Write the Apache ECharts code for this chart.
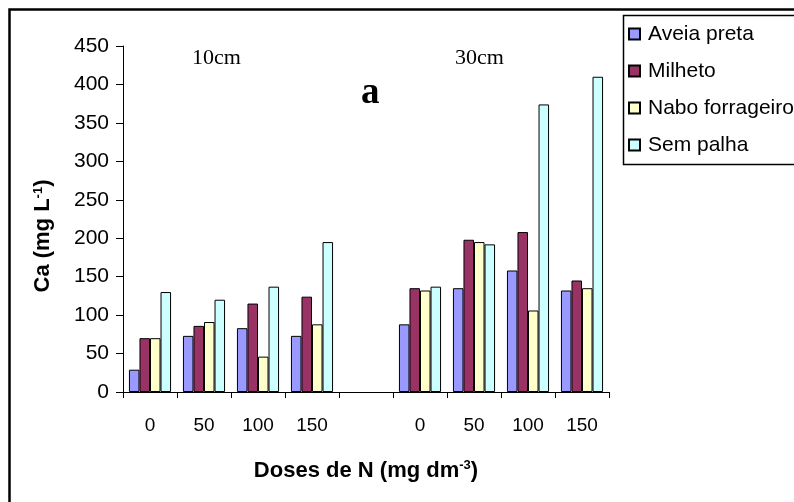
<!DOCTYPE html>
<html>
<head>
<meta charset="utf-8">
<script src="https://cdn.jsdelivr.net/npm/echarts@6/dist/echarts.min.js"></script>
<style>html,body{margin:0;padding:0;background:#fff;}#c{width:794px;height:502px;}</style>
</head>
<body>
<div id="c"></div>
<script>
const categories = ['0', '50', '100', '150', '', '0', '50', '100', '150'];
const seriesNames = ['Aveia preta', 'Milheto', 'Nabo forrageiro', 'Sem palha'];
const aveiaPreta = [29, 73, 83, 73, null, 88, 135, 158, 132];
const milheto = [70, 86, 115, 124, null, 135, 198, 208, 145];
const naboForrageiro = [70, 91, 46, 88, null, 132, 195, 106, 135];
const semPalha = [130, 120, 137, 195, null, 137, 192, 374, 410];
const yTicks = { min: 0, max: 450, interval: 50 };
const colors = ['#9999FF', '#993366', '#FFFFCC', '#CCFFFF'];
const allValues = [aveiaPreta, milheto, naboForrageiro, semPalha];

const chart = echarts.init(document.getElementById('c'), null, { renderer: 'canvas' });
const font = 'Arial, "Liberation Sans", sans-serif';
const serif = '"Times New Roman", "Liberation Serif", serif';

chart.setOption({
  animation: false,
  backgroundColor: '#fff',
  color: colors,
  grid: { left: 123, right: 185, top: 46, bottom: 110, containLabel: false },
  legend: {
    orient: 'vertical',
    left: 623,
    top: 18,
    padding: 5,
    itemWidth: 11,
    itemHeight: 11,
    itemGap: 15,
    icon: 'rect',
    textStyle: { fontFamily: font, fontSize: 21, color: '#000', lineHeight: 22, padding: [0, 0, 0, 3] },
    data: seriesNames
  },
  xAxis: {
    type: 'category',
    data: categories,
    boundaryGap: true,
    axisLine: { lineStyle: { color: '#000', width: 1 } },
    axisTick: { show: true, length: 6, alignWithLabel: false, lineStyle: { color: '#000' } },
    axisLabel: { color: '#000', fontFamily: font, fontSize: 19, margin: 24, interval: 0 },
    name: '{b|Doses de N (mg dm}{s|-3}{b|)}',
    nameLocation: 'middle',
    nameGap: 67,
    nameTextStyle: {
      rich: {
        b: { fontFamily: font, fontSize: 22, fontWeight: 'bold', color: '#000' },
        s: { fontFamily: font, fontSize: 13, fontWeight: 'bold', color: '#000', padding: [0, 0, 10, 0] }
      }
    }
  },
  yAxis: {
    type: 'value',
    min: yTicks.min,
    max: yTicks.max,
    interval: yTicks.interval,
    axisLine: { show: true, lineStyle: { color: '#000', width: 1 } },
    axisTick: { show: true, length: 7, lineStyle: { color: '#000' } },
    splitLine: { show: false },
    axisLabel: { color: '#000', fontFamily: font, fontSize: 21, margin: 14 }
  },
  series: seriesNames.map((n, i) => ({
    name: n,
    type: 'bar',
    data: allValues[i],
    barGap: '0%',
    barCategoryGap: '22%',
    itemStyle: { color: colors[i], borderColor: '#000', borderWidth: 1 }
  })),
  graphic: [
    { type: 'rect', left: 7, top: 7, shape: { width: 800, height: 500 }, style: { fill: 'none', stroke: '#000', lineWidth: 2.5 }, z: 100 },
    { type: 'rect', left: 621, top: 13, shape: { width: 180, height: 149 }, style: { fill: 'none', stroke: '#000', lineWidth: 1.5 }, z: 100 },
    { type: 'text', left: 192, top: 47, style: { text: '10cm', fontFamily: serif, fontSize: 22, fill: '#000' } },
    { type: 'text', left: 455, top: 47, style: { text: '30cm', fontFamily: serif, fontSize: 22, fill: '#000' } },
    { type: 'text', left: 361, top: 75, style: { text: 'a', fontFamily: serif, fontSize: 37, fontWeight: 'bold', fill: '#000' } },
    {
      type: 'text', x: 43, y: 236, rotation: Math.PI / 2,
      style: {
        text: '{b|Ca (mg L}{s|-1}{b|)}', align: 'center', verticalAlign: 'middle',
        rich: {
          b: { fontFamily: font, fontSize: 22, fontWeight: 'bold', fill: '#000' },
          s: { fontFamily: font, fontSize: 13, fontWeight: 'bold', fill: '#000', padding: [0, 0, 10, 0] }
        }
      }
    }
  ]
});
</script>
</body>
</html>
